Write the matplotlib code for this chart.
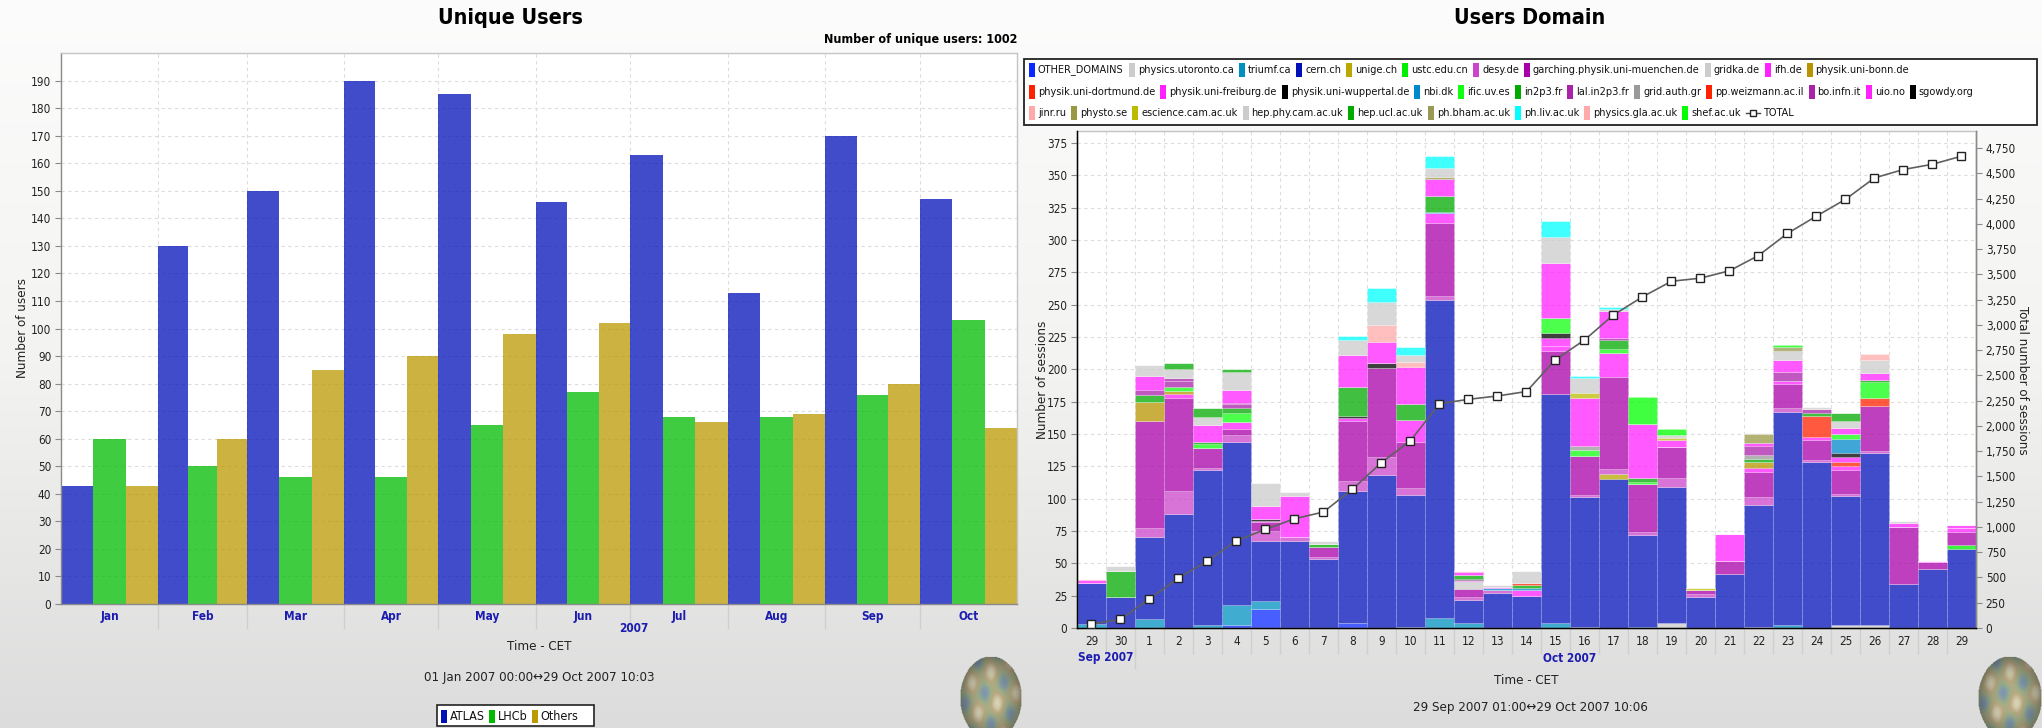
import datetime as dt
import numpy as np
import matplotlib
matplotlib.use("Agg")
import matplotlib.pyplot as plt
import matplotlib.dates as mdates
from matplotlib import font_manager
from matplotlib.colors import LinearSegmentedColormap, to_rgba
from matplotlib.lines import Line2D
from matplotlib.patches import Rectangle
from matplotlib.ticker import FixedLocator, FixedFormatter, FuncFormatter
from matplotlib.transforms import blended_transform_factory

# ---------------------------------------------------------------- data
# Unique users per month
months = ["Jan", "Feb", "Mar", "Apr", "May", "Jun", "Jul", "Aug", "Sep", "Oct"]
atlas = [43, 130, 150, 190, 185, 146, 163, 113, 170, 147]
lhcb = [60, 50, 46, 46, 65, 77, 68, 68, 76, 103]
others = [43, 60, 85, 90, 98, 102, 66, 69, 80, 64]

# Sessions per day and domain (29 Sep 2007 .. 29 Oct 2007)
day_labels = ["29", "30"] + [str(d) for d in range(1, 30)]

other_domains     = [0, 0,  0, 0, 0, 2, 15, 0, 0, 4, 0, 0,  0, 0, 0, 0, 0, 0, 0, 0, 0, 0,  0, 0, 0, 0, 0, 0, 0, 0, 0]
physics_utoronto  = [0, 0,  0, 0, 0, 0, 0, 0, 0, 0, 0, 1,  0, 0, 0, 0, 0, 1, 0, 0, 4, 0,  0, 1, 0, 0, 2, 2, 0, 0, 0]
triumf            = [3, 0,  7, 0, 2, 16, 6, 0, 0, 0, 0, 0,  8, 4, 0, 0, 4, 0, 0, 1, 0, 0,  0, 0, 2, 0, 0, 0, 0, 0, 0]
cern              = [32, 24,  63, 88, 120, 126, 46, 67, 53, 102, 118, 102,  246, 18, 27, 25, 177, 100, 115, 71, 105, 24,  42, 94, 165, 128, 100, 133, 34, 46, 61]
unige             = [0, 0,  0, 0, 0, 0, 0, 0, 0, 0, 0, 0,  0, 0, 0, 0, 0, 0, 4, 0, 0, 0,  0, 0, 0, 0, 0, 0, 0, 0, 0]
ustc              = [0, 0,  0, 0, 0, 0, 0, 0, 0, 0, 0, 0,  0, 0, 0, 0, 0, 0, 0, 0, 0, 0,  0, 0, 0, 0, 0, 0, 0, 0, 3]
desy              = [0, 0,  7, 18, 2, 5, 8, 3, 2, 8, 14, 5,  3, 2, 2, 0, 0, 2, 4, 2, 7, 2,  0, 6, 3, 2, 2, 2, 0, 0, 0]
garching          = [0, 0,  83, 72, 15, 5, 7, 0, 8, 46, 69, 36,  56, 6, 0, 0, 33, 30, 71, 37, 24, 3,  10, 20, 19, 15, 18, 35, 44, 5, 10]
gridka            = [0, 0,  0, 0, 0, 0, 0, 0, 0, 0, 0, 0,  0, 6, 0, 0, 0, 0, 0, 0, 0, 0,  0, 0, 0, 0, 0, 0, 0, 0, 0]
ifh               = [0, 0,  0, 3, 0, 5, 1, 0, 0, 2, 0, 17,  8, 1, 0, 4, 4, 0, 19, 0, 0, 0,  0, 3, 2, 3, 3, 0, 0, 0, 3]
uni_bonn          = [0, 0,  15, 2, 0, 0, 0, 0, 0, 0, 0, 0,  0, 0, 0, 0, 0, 0, 0, 0, 0, 0,  0, 4, 0, 0, 0, 0, 0, 0, 0]
uni_dortmund      = [0, 0,  0, 0, 0, 0, 0, 0, 0, 0, 0, 0,  0, 0, 0, 0, 0, 0, 0, 0, 0, 0,  0, 0, 0, 16, 3, 6, 0, 0, 0]
uni_freiburg      = [0, 0,  0, 0, 0, 0, 0, 0, 0, 0, 0, 0,  0, 0, 0, 0, 6, 0, 0, 0, 0, 0,  0, 0, 0, 0, 4, 0, 0, 0, 0]
uni_wuppertal     = [0, 0,  0, 0, 0, 0, 1, 0, 0, 2, 4, 0,  0, 1, 0, 0, 4, 0, 0, 0, 0, 0,  0, 0, 0, 0, 3, 0, 0, 0, 0]
nbi               = [0, 0,  0, 0, 0, 0, 0, 0, 0, 0, 0, 0,  1, 0, 2, 2, 0, 0, 0, 0, 0, 0,  0, 0, 0, 0, 11, 0, 0, 0, 0]
ific              = [0, 0,  0, 3, 3, 7, 0, 0, 0, 0, 0, 0,  0, 0, 0, 0, 12, 5, 3, 2, 0, 0,  0, 0, 0, 0, 4, 12, 0, 0, 0]
in2p3             = [0, 20,  5, 0, 2, 4, 0, 0, 2, 22, 0, 12,  12, 3, 0, 2, 0, 0, 7, 3, 0, 0,  0, 3, 0, 2, 0, 2, 0, 0, 0]
lal_in2p3         = [0, 0,  0, 5, 0, 3, 0, 0, 0, 0, 0, 0,  0, 0, 0, 0, 0, 0, 1, 0, 0, 0,  0, 0, 7, 3, 0, 0, 0, 0, 0]
grid_auth         = [0, 0,  0, 0, 0, 0, 0, 0, 0, 0, 0, 0,  0, 0, 0, 0, 0, 3, 0, 0, 0, 0,  0, 3, 0, 0, 0, 0, 0, 0, 0]
weizmann          = [0, 0,  0, 0, 0, 0, 0, 0, 0, 0, 0, 0,  0, 0, 0, 2, 0, 0, 0, 0, 0, 0,  0, 0, 0, 0, 0, 0, 0, 0, 0]
bo_infn           = [0, 0,  4, 2, 0, 1, 0, 0, 0, 0, 0, 0,  0, 0, 0, 0, 0, 0, 0, 0, 0, 0,  0, 7, 0, 0, 0, 0, 0, 0, 0]
uio               = [2, 0,  11, 0, 13, 10, 10, 32, 0, 25, 16, 29,  13, 2, 1, 0, 42, 37, 21, 42, 5, 0,  21, 2, 9, 0, 5, 5, 3, 1, 3]
sgowdy            = [0, 0,  0, 0, 0, 0, 0, 0, 0, 0, 0, 0,  0, 0, 0, 0, 0, 0, 0, 0, 0, 0,  0, 0, 0, 0, 0, 0, 0, 0, 0]
jinr              = [1, 0,  0, 0, 0, 0, 0, 0, 0, 0, 13, 4,  0, 1, 0, 0, 0, 0, 0, 0, 0, 0,  0, 0, 0, 0, 0, 0, 0, 0, 0]
physto            = [0, 0,  0, 0, 0, 0, 0, 0, 0, 0, 0, 0,  2, 0, 0, 0, 0, 0, 0, 0, 0, 0,  0, 7, 0, 0, 0, 0, 0, 0, 0]
escience_cam      = [0, 0,  0, 0, 0, 0, 0, 0, 0, 0, 0, 0,  0, 0, 0, 0, 0, 4, 0, 0, 2, 2,  0, 0, 0, 0, 0, 0, 0, 0, 0]
hep_phy_cam       = [0, 4,  8, 7, 6, 14, 18, 3, 2, 12, 18, 5,  7, 0, 1, 9, 20, 11, 2, 0, 2, 0,  0, 1, 7, 2, 5, 10, 2, 0, 0]
hep_ucl           = [0, 0,  0, 5, 7, 2, 0, 0, 0, 0, 0, 0,  0, 0, 0, 0, 0, 0, 0, 0, 0, 0,  0, 0, 0, 0, 6, 0, 0, 0, 0]
ph_bham           = [0, 0,  0, 0, 0, 0, 0, 0, 0, 0, 0, 0,  0, 0, 0, 0, 0, 0, 0, 0, 0, 0,  0, 0, 3, 0, 0, 0, 0, 0, 0]
ph_liv            = [0, 0,  0, 0, 0, 0, 0, 0, 0, 3, 11, 6,  9, 0, 0, 0, 13, 2, 1, 0, 0, 0,  0, 0, 0, 0, 0, 0, 0, 0, 0]
physics_gla       = [0, 0,  0, 0, 0, 0, 0, 0, 0, 0, 0, 0,  0, 0, 0, 0, 0, 0, 0, 0, 0, 0,  0, 0, 0, 0, 0, 5, 0, 0, 0]
shef              = [0, 0,  0, 0, 0, 0, 0, 0, 0, 0, 0, 0,  0, 0, 0, 0, 0, 0, 0, 21, 5, 0,  0, 0, 2, 0, 0, 0, 0, 0, 0]

domain_names = [
    "OTHER_DOMAINS", "physics.utoronto.ca", "triumf.ca", "cern.ch", "unige.ch",
    "ustc.edu.cn", "desy.de", "garching.physik.uni-muenchen.de", "gridka.de", "ifh.de",
    "physik.uni-bonn.de", "physik.uni-dortmund.de", "physik.uni-freiburg.de",
    "physik.uni-wuppertal.de", "nbi.dk", "ific.uv.es", "in2p3.fr", "lal.in2p3.fr",
    "grid.auth.gr", "pp.weizmann.ac.il", "bo.infn.it", "uio.no", "sgowdy.org",
    "jinr.ru", "physto.se", "escience.cam.ac.uk", "hep.phy.cam.ac.uk", "hep.ucl.ac.uk",
    "ph.bham.ac.uk", "ph.liv.ac.uk", "physics.gla.ac.uk", "shef.ac.uk",
]
domain_values = [
    other_domains, physics_utoronto, triumf, cern, unige, ustc, desy, garching,
    gridka, ifh, uni_bonn, uni_dortmund, uni_freiburg, uni_wuppertal, nbi, ific,
    in2p3, lal_in2p3, grid_auth, weizmann, bo_infn, uio, sgowdy, jinr, physto,
    escience_cam, hep_phy_cam, hep_ucl, ph_bham, ph_liv, physics_gla, shef,
]

# ---------------------------------------------------------------- style
domain_colors = [
    "#0a28ff", "#cccccc", "#0090c0", "#0010b8", "#b8a800",
    "#00ee00", "#cc44cc", "#a800a8", "#cccccc", "#ff22ff",
    "#b89400", "#ff2200", "#ff22ff",
    "#000000", "#0088cc", "#11ff11", "#00aa00", "#aa22aa",
    "#999999", "#ff2200", "#aa22aa", "#ff22ff", "#000000",
    "#ffaaaa", "#999944", "#bbbb00", "#cccccc", "#00aa00",
    "#999955", "#00ffff", "#ffaaaa", "#00ff00",
]
user_colors = ["#0010b8", "#00bb00", "#bb9900"]
BAR_ALPHA = 0.75
TICK_BLUE = "#1c1cb0"

W, H, DPI = 2042, 728, 100

# condensed sans if available
_fonts = font_manager.fontManager.ttflist
_names = {f.name for f in _fonts}
if any(f.name == "DejaVu Sans" and str(f.stretch) == "condensed" for f in _fonts):
    FAMILY, STRETCH = "DejaVu Sans", "condensed"
elif "Liberation Sans Narrow" in _names:
    FAMILY, STRETCH = "Liberation Sans Narrow", "normal"
else:
    FAMILY, STRETCH = "DejaVu Sans", "normal"
plt.rcParams["font.family"] = [FAMILY, "DejaVu Sans"]
plt.rcParams["font.stretch"] = STRETCH
plt.rcParams["axes.linewidth"] = 1.0


def fx(x):
    return x / W


def fy(y):
    return 1 - y / H


fig = plt.figure(figsize=(W / DPI, H / DPI), dpi=DPI)

# page background
bg = fig.add_axes([0, 0, 1, 1], zorder=-10)
bg.axis("off")
bg_cmap = LinearSegmentedColormap.from_list("bg", ["#fcfcfc", "#f3f3f1", "#dcdcdc"])
bg.imshow(np.linspace(0, 1, 256).reshape(-1, 1), aspect="auto", cmap=bg_cmap,
          extent=[0, 1, 0, 1], origin="upper")


def style_axes(ax):
    ax.set_facecolor("white")
    for side in ("left", "bottom"):
        ax.spines[side].set_color("#8a8a8a")
    for side in ("top", "right"):
        ax.spines[side].set_color("#c4c4c4")


def globe(cx, cy, rx, ry):
    ax = fig.add_axes([fx(cx - rx), fy(cy + ry), 2 * rx / W, 2 * ry / H], zorder=5)
    ax.axis("off")
    yy, xx = np.mgrid[-1:1:96j, -1:1:96j]
    r = np.sqrt(xx ** 2 + yy ** 2)
    land = 0.5 + 0.5 * np.sin(6 * xx + 2.5 * yy) * np.cos(5 * yy - 3 * xx)
    cmap = LinearSegmentedColormap.from_list("g", ["#6d8aa8", "#8fa57a", "#b5a070", "#d8d2b0"])
    rgba = cmap(land)
    shade = np.clip(1.05 - 0.45 * r ** 2, 0, 1)
    rgba[..., :3] *= shade[..., None]
    rgba[..., 3] = np.where(r <= 1, 0.85, 0)
    ax.imshow(rgba, extent=[0, 1, 0, 1], aspect="auto")


# ================================================================ left chart
axL = fig.add_axes([fx(61), fy(604), fx(1017) - fx(61), fy(53) - fy(604)])
style_axes(axL)
bounds = np.array([mdates.date2num(dt.date(2007, m, 1)) for m in range(1, 12)])
starts = bounds[:-1]
thirds = np.diff(bounds) / 3
for k, (vals, col) in enumerate(zip([atlas, lhcb, others], user_colors)):
    axL.bar(starts + k * thirds, vals, width=thirds, align="edge",
            color=to_rgba(col, BAR_ALPHA), linewidth=0, zorder=2)
axL.set_xlim(bounds[0], bounds[-1])
axL.set_ylim(0, 200)
axL.set_yticks(np.arange(0, 200, 10))
axL.xaxis.set_major_locator(FixedLocator(bounds[1:-1]))
axL.xaxis.set_major_formatter(FixedFormatter([""] * (len(bounds) - 2)))
axL.xaxis.set_minor_locator(FixedLocator(starts + 1.5 * thirds))
axL.xaxis.set_minor_formatter(FixedFormatter(months))
axL.tick_params(axis="x", which="major", length=18, color="#cfcfcf", width=1)
axL.tick_params(axis="x", which="minor", length=0, pad=4, labelsize=8.5, labelcolor=TICK_BLUE)
axL.tick_params(axis="y", length=4, color="#8a8a8a", labelsize=8.5, labelcolor="#222222", pad=3)
for lbl in axL.get_xticklabels(minor=True):
    lbl.set_fontweight("bold")
axL.grid(True, which="major", ls=(0, (3, 3)), color="#dcdcdc", lw=0.8, zorder=0)
axL.set_axisbelow(True)

fig.text(fx(510), fy(18), "Unique Users", ha="center", va="center", fontsize=15.5, fontweight="bold")
fig.text(fx(1017), fy(40), "Number of unique users: 1002", ha="right", va="center",
         fontsize=9, fontweight="bold")
fig.text(fx(23), fy(328), "Number of users", ha="center", va="center", rotation=90, fontsize=9.5,
         color="#222222")
fig.text(fx(634), fy(629), "2007", ha="center", va="center", fontsize=8.5, fontweight="bold",
         color=TICK_BLUE)
fig.text(fx(539), fy(647), "Time - CET", ha="center", va="center", fontsize=9.5, color="#222222")
fig.text(fx(539), fy(678), "01 Jan 2007 00:00\u219429 Oct 2007 10:03", ha="center", va="center",
         fontsize=9.5, color="#222222")

renderer = fig.canvas.get_renderer()


def legend_row(x, yc, labels, colors, size=7.8, gap=5):
    for lab, col in zip(labels, colors):
        fig.add_artist(Rectangle((fx(x), fy(yc + 6.5)), 6 / W, 13 / H, transform=fig.transFigure,
                                 facecolor=col, edgecolor="none", zorder=6))
        t = fig.text(fx(x + 9), fy(yc), lab, ha="left", va="center", fontsize=size,
                     color="#111111", zorder=6)
        x += 9 + t.get_window_extent(renderer=renderer).width + gap
    return x


fig.add_artist(Rectangle((fx(437), fy(726)), 157 / W, 21 / H, transform=fig.transFigure,
                         facecolor="white", edgecolor="#222222", lw=1.2, zorder=5))
legend_row(441, 716, ["ATLAS", "LHCb", "Others"], user_colors, size=9, gap=4)
globe(991, 698, 31, 42)

# ================================================================ right chart
axR = fig.add_axes([fx(1077), fy(628), fx(1976) - fx(1077), fy(131) - fy(628)])
style_axes(axR)
axR.spines["right"].set_color("#8a8a8a")
xd = np.arange(len(day_labels))
bottom = np.zeros(len(xd))
for vals, col in zip(domain_values, domain_colors):
    v = np.array(vals, dtype=float)
    axR.bar(xd, v, width=1.0, bottom=bottom, color=to_rgba(col, BAR_ALPHA),
            edgecolor=(1, 1, 1, 0.25), linewidth=0.5, zorder=2)
    bottom += v
totals = bottom

axR.set_xlim(-0.5, len(xd) - 0.5)
axR.set_ylim(0, 384.3)
axR.set_yticks(np.arange(0, 376, 25))
axR.xaxis.set_major_locator(FixedLocator(np.arange(0.5, len(xd) - 0.5, 1)))
axR.xaxis.set_major_formatter(FixedFormatter([""] * (len(xd) - 1)))
axR.xaxis.set_minor_locator(FixedLocator(xd))
axR.xaxis.set_minor_formatter(FixedFormatter(day_labels))
axR.tick_params(axis="x", which="major", length=19, color="#cfcfcf", width=1)
axR.tick_params(axis="x", which="minor", length=0, pad=5, labelsize=8.5, labelcolor="#222222")
axR.tick_params(axis="y", length=4, color="#8a8a8a", labelsize=8.5, labelcolor="#222222", pad=3)
axR.grid(True, which="major", ls=(0, (3, 3)), color="#dcdcdc", lw=0.8, zorder=0)
axR.set_axisbelow(True)

axT = axR.twinx()
axT.set_ylim(0, 4918)
axT.set_yticks(np.arange(0, 4751, 250))
axT.yaxis.set_major_formatter(FuncFormatter(lambda v, p: f"{int(v):,}"))
axT.tick_params(axis="y", length=4, color="#8a8a8a", labelsize=8.5, labelcolor="#222222", pad=3)
axT.spines["right"].set_color("#8a8a8a")
axT.spines["top"].set_visible(False)
axT.plot(xd, np.cumsum(totals), color="#606060", lw=1.2, marker="s", ms=5.5,
         mfc="white", mec="#222222", mew=1.0, zorder=4)

fig.text(fx(1530), fy(18), "Users Domain", ha="center", va="center", fontsize=15.5, fontweight="bold")
fig.text(fx(1042), fy(380), "Number of sessions", ha="center", va="center", rotation=90,
         fontsize=9.5, color="#222222")
fig.text(fx(2022), fy(380), "Total number of sessions", ha="center", va="center", rotation=270,
         fontsize=9.5, color="#222222")
tr = blended_transform_factory(axR.transData, fig.transFigure)
fig.text(0.5, fy(658), "Sep 2007", transform=tr, ha="center", va="center", fontsize=8.5,
         fontweight="bold", color=TICK_BLUE)
fig.text(16.5, fy(658), "Oct 2007", transform=tr, ha="center", va="center", fontsize=8.5,
         fontweight="bold", color=TICK_BLUE)
fig.add_artist(Line2D([1.5, 1.5], [fy(648), fy(668)], transform=tr, color="#cfcfcf", lw=1))
fig.text(fx(1526), fy(681), "Time - CET", ha="center", va="center", fontsize=9.5, color="#222222")
fig.text(fx(1530), fy(707), "29 Sep 2007 01:00\u219429 Oct 2007 10:06", ha="center", va="center",
         fontsize=9.5, color="#222222")

# domain legend
fig.add_artist(Rectangle((fx(1024), fy(125)), 1013 / W, 66 / H, transform=fig.transFigure,
                         facecolor="white", edgecolor="#222222", lw=1.3, zorder=5))
rows = [(0, 11, 70), (11, 23, 92), (23, 32, 113)]
for a, b, yc in rows:
    xe = legend_row(1029, yc, domain_names[a:b], domain_colors[a:b])
fig.add_artist(Line2D([fx(xe), fx(xe + 14)], [fy(113), fy(113)], transform=fig.transFigure,
                      color="#444444", lw=1, zorder=6))
fig.add_artist(Line2D([fx(xe + 7)], [fy(113)], transform=fig.transFigure, marker="s", ms=5,
                      mfc="white", mec="#222222", lw=0, zorder=7))
fig.text(fx(xe + 17), fy(113), "TOTAL", ha="left", va="center", fontsize=7.8, color="#111111",
         zorder=6)
globe(2010, 698, 32, 42)

fig.savefig("out.png", dpi=DPI)
